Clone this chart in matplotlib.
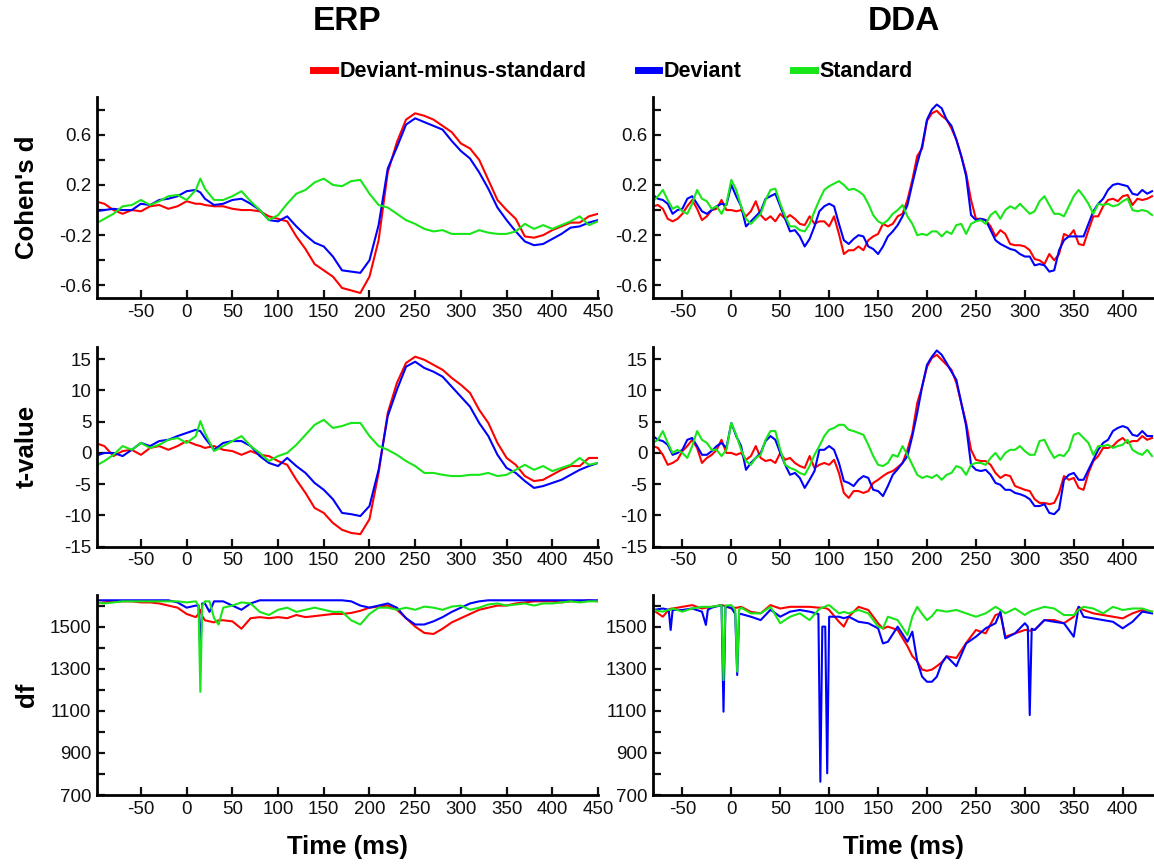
import numpy as np
import matplotlib
matplotlib.use('Agg')
import matplotlib.pyplot as plt
from matplotlib.lines import Line2D
from matplotlib.ticker import FormatStrFormatter

plt.rcParams['font.family'] = ['Liberation Sans', 'DejaVu Sans']
plt.rcParams['axes.unicode_minus'] = False

RED, BLUE, GREEN = '#ff0000', '#0000ff', '#18e618'

# ---------------- ERP (left column) ----------------
t_erp = [-100, -90, -80, -70, -60, -50, -40, -30, -20, -10, 0, 10, 15,
         20, 30, 40, 50, 60, 70, 80, 90, 100, 110,
         120, 130, 140, 150, 160, 170, 180, 190, 200, 210,
         220, 230, 240, 250, 260, 270, 280, 290, 300, 310,
         320, 330, 340, 350, 360, 370, 380, 390, 400, 410,
         420, 430, 440, 450]

d_erp_red = [0.07, 0.05, 0.00, -0.03, 0.00, -0.01, 0.03, 0.04, 0.01, 0.03, 0.07, 0.05, 0.05,
             0.04, 0.03, 0.03, 0.01, 0.00, 0.00, -0.01, -0.05, -0.07, -0.09,
             -0.21, -0.31, -0.43, -0.48, -0.53, -0.62, -0.64, -0.66, -0.53, -0.24,
             0.30, 0.54, 0.72, 0.77, 0.75, 0.72, 0.67, 0.62, 0.53, 0.49,
             0.40, 0.24, 0.08, 0.00, -0.07, -0.21, -0.22, -0.20, -0.16, -0.13,
             -0.10, -0.10, -0.05, -0.03]
d_erp_blue = [-0.01, 0.00, 0.01, 0.00, 0.00, 0.05, 0.04, 0.08, 0.09, 0.11, 0.15, 0.16, 0.14,
              0.09, 0.04, 0.05, 0.08, 0.09, 0.05, 0.00, -0.08, -0.09, -0.05,
              -0.13, -0.20, -0.26, -0.29, -0.37, -0.48, -0.49, -0.50, -0.40, -0.12,
              0.33, 0.50, 0.68, 0.73, 0.70, 0.67, 0.64, 0.55, 0.47, 0.41,
              0.30, 0.17, 0.02, -0.08, -0.17, -0.25, -0.28, -0.27, -0.23, -0.19,
              -0.14, -0.13, -0.10, -0.08]
d_erp_green = [-0.11, -0.07, -0.03, 0.03, 0.04, 0.08, 0.04, 0.07, 0.11, 0.12, 0.08, 0.16, 0.25,
               0.17, 0.08, 0.08, 0.11, 0.15, 0.07, 0.00, -0.08, -0.04, 0.05,
               0.13, 0.16, 0.22, 0.25, 0.20, 0.19, 0.23, 0.24, 0.13, 0.04,
               0.02, -0.03, -0.08, -0.11, -0.15, -0.17, -0.16, -0.19, -0.19, -0.19,
               -0.16, -0.18, -0.19, -0.19, -0.17, -0.11, -0.15, -0.12, -0.15, -0.12,
               -0.09, -0.05, -0.12, -0.09]

tv_erp_red = [1.6, 1.1, -0.5, 0.3, 0.5, -0.3, 0.8, 1.1, 0.5, 1.1, 1.9, 1.3, 1.1,
              0.8, 1.1, 0.5, 0.3, -0.3, 0.3, -0.3, -0.5, -1.3, -1.9,
              -4.3, -6.4, -8.8, -9.6, -11.2, -12.3, -12.8, -13.0, -10.6, -3.2,
              6.4, 11.2, 14.4, 15.4, 14.9, 14.1, 13.3, 12.0, 10.9, 9.6,
              6.9, 4.8, 1.6, -0.8, -1.9, -3.7, -4.5, -4.3, -3.5, -2.7,
              -2.1, -2.1, -0.8, -0.8]
tv_erp_blue = [-0.5, 0.0, 0.0, -0.5, 0.5, 1.6, 1.1, 1.9, 2.1, 2.7, 3.2, 3.7, 3.5,
               2.4, 0.5, 1.6, 1.9, 1.9, 1.1, -0.5, -1.6, -2.1, -0.8,
               -2.1, -3.2, -4.8, -5.9, -7.4, -9.6, -9.8, -10.1, -8.5, -2.7,
               5.9, 10.1, 13.8, 14.6, 13.6, 13.0, 12.2, 10.6, 9.0, 7.4,
               4.8, 2.7, -0.3, -2.4, -3.2, -4.5, -5.6, -5.3, -4.8, -4.3,
               -3.5, -2.7, -2.1, -1.6]
tv_erp_green = [-2.1, -1.3, -0.3, 1.1, 0.5, 1.6, 0.8, 1.3, 2.1, 2.4, 1.6, 2.7, 5.1,
                3.2, 0.3, 1.1, 1.9, 2.7, 1.1, 0.0, -1.3, -0.5, 0.0,
                1.3, 2.9, 4.5, 5.3, 4.0, 4.3, 4.8, 4.8, 2.7, 1.1,
                0.5, -0.3, -1.3, -2.1, -3.2, -3.2, -3.5, -3.7, -3.7, -3.5,
                -3.5, -3.2, -3.7, -3.5, -2.7, -1.9, -2.7, -2.1, -2.9, -2.4,
                -1.9, -0.8, -1.9, -1.6]

t_df_erp = [-100, -90, -80, -70, -60, -50, -40, -30, -20, -10, 0, 10,
            13, 15, 17, 20, 25, 30, 35, 40,
            50, 60, 70, 80, 90, 100, 110, 120, 130, 140,
            150, 160, 170, 180, 190, 200, 210, 220, 230, 240,
            250, 260, 270, 280, 290, 300, 310, 320, 330, 340,
            350, 360, 370, 380, 390, 400, 410, 420, 430, 440, 450]
df_erp_red = [1610, 1615, 1620, 1620, 1620, 1615, 1615, 1610, 1600, 1590, 1560, 1545,
              1560, 1580, 1550, 1530, 1525, 1520, 1530, 1530,
              1525, 1490, 1540, 1545, 1540, 1545, 1540, 1555, 1545, 1550,
              1555, 1560, 1560, 1565, 1575, 1590, 1595, 1600, 1580, 1540,
              1500, 1470, 1465, 1490, 1520, 1540, 1560, 1580, 1590, 1600,
              1600, 1610, 1615, 1620, 1620, 1620, 1615, 1620, 1620, 1625, 1620]
df_erp_blue = [1625, 1625, 1625, 1625, 1625, 1625, 1625, 1625, 1625, 1615, 1590, 1600,
               1600, 1380, 1610, 1610, 1570, 1620, 1620, 1620,
               1600, 1580, 1610, 1625, 1625, 1625, 1625, 1625, 1625, 1625,
               1625, 1625, 1625, 1620, 1600, 1590, 1600, 1610, 1590, 1540,
               1510, 1510, 1525, 1545, 1570, 1590, 1610, 1620, 1625, 1625,
               1625, 1625, 1625, 1625, 1625, 1625, 1625, 1625, 1625, 1625, 1625]
df_erp_green = [1615, 1610, 1615, 1620, 1620, 1620, 1620, 1620, 1620, 1620, 1615, 1620,
                1600, 1190, 1600, 1620, 1620, 1540, 1510, 1590,
                1600, 1615, 1610, 1570, 1555, 1580, 1590, 1570, 1580, 1590,
                1580, 1570, 1570, 1530, 1510, 1560, 1590, 1590, 1580, 1590,
                1580, 1595, 1590, 1580, 1595, 1600, 1580, 1590, 1605, 1610,
                1600, 1605, 1610, 1600, 1610, 1610, 1615, 1620, 1615, 1620, 1620]

# ---------------- DDA (right column) ----------------
t_dda = np.arange(-80, 435, 5)

d_dda_red = [0.03, 0.04, 0.01, -0.07, -0.09, -0.07, -0.03, 0.03, 0.08, 0.01,
             -0.08, -0.05, 0.00, 0.01, 0.08, 0.00, 0.00, -0.01, 0.00, -0.05,
             -0.01, 0.07, -0.04, -0.08, -0.05, -0.09, -0.03, -0.07, -0.04, -0.07,
             -0.11, -0.12, -0.05, -0.11, -0.09, -0.09, -0.13, -0.05, -0.19, -0.35,
             -0.32, -0.32, -0.29, -0.32, -0.24, -0.21, -0.19, -0.11, -0.13, -0.11,
             -0.05, -0.03, 0.08, 0.24, 0.43, 0.49, 0.71, 0.77, 0.79, 0.75,
             0.72, 0.65, 0.56, 0.43, 0.29, 0.08, -0.07, -0.07, -0.08, -0.13,
             -0.21, -0.16, -0.19, -0.27, -0.28, -0.28, -0.29, -0.32, -0.39, -0.40,
             -0.43, -0.35, -0.40, -0.35, -0.19, -0.21, -0.16, -0.27, -0.28, -0.16,
             -0.05, -0.05, 0.03, 0.08, 0.09, 0.07, 0.11, 0.12, 0.04, 0.09,
             0.08, 0.09, 0.11]
d_dda_blue = [0.12, 0.09, 0.08, 0.05, -0.03, 0.00, 0.01, 0.09, 0.11, 0.05,
              -0.01, -0.03, 0.00, 0.03, 0.05, 0.04, 0.20, 0.11, 0.03, -0.13,
              -0.09, -0.05, -0.01, 0.09, 0.11, 0.13, 0.03, -0.07, -0.17, -0.16,
              -0.21, -0.29, -0.23, -0.13, -0.01, 0.03, 0.05, 0.03, -0.11, -0.24,
              -0.27, -0.23, -0.20, -0.21, -0.29, -0.31, -0.35, -0.29, -0.21, -0.17,
              -0.12, -0.05, 0.04, 0.21, 0.37, 0.51, 0.72, 0.80, 0.84, 0.81,
              0.72, 0.67, 0.56, 0.43, 0.27, -0.04, -0.08, -0.07, -0.08, -0.16,
              -0.24, -0.27, -0.29, -0.31, -0.32, -0.35, -0.37, -0.37, -0.44, -0.43,
              -0.44, -0.49, -0.48, -0.32, -0.24, -0.21, -0.21, -0.21, -0.21, -0.11,
              -0.01, 0.05, 0.09, 0.16, 0.20, 0.21, 0.20, 0.19, 0.13, 0.12,
              0.16, 0.13, 0.15]
d_dda_green = [0.07, 0.11, 0.16, 0.08, 0.01, 0.03, -0.01, -0.03, 0.05, 0.16,
               0.09, 0.07, 0.01, 0.03, -0.03, 0.05, 0.24, 0.16, 0.03, -0.07,
               -0.11, -0.07, -0.03, 0.08, 0.16, 0.17, 0.05, -0.05, -0.13, -0.13,
               -0.16, -0.17, -0.11, -0.01, 0.08, 0.16, 0.19, 0.21, 0.23, 0.20,
               0.16, 0.17, 0.15, 0.12, 0.05, -0.04, -0.09, -0.11, -0.08, -0.03,
               0.00, 0.04, -0.05, -0.11, -0.20, -0.19, -0.20, -0.17, -0.17, -0.21,
               -0.17, -0.19, -0.12, -0.11, -0.19, -0.11, -0.09, -0.08, -0.11, -0.04,
               -0.01, -0.07, 0.00, 0.03, 0.01, 0.05, 0.01, -0.03, -0.01, 0.07,
               0.11, 0.04, -0.03, -0.03, -0.05, 0.03, 0.11, 0.16, 0.11, 0.05,
               -0.03, 0.05, 0.04, 0.05, 0.03, 0.04, 0.07, 0.09, 0.00, -0.01,
               0.00, -0.01, -0.04]

tv_dda_red = [1.1, 0.8, -0.3, -1.9, -1.6, -1.1, 0.3, 1.1, 2.1, 0.8,
              -1.6, -0.8, -0.3, 0.5, 2.1, 0.0, 0.0, -0.3, 0.0, -1.1,
              -0.5, 1.1, -0.8, -1.3, -1.1, -1.6, 0.0, -1.1, -0.8, -1.6,
              -2.1, -2.4, -0.5, -2.4, -1.9, -1.6, -1.9, -1.1, -3.2, -6.4,
              -7.2, -6.1, -6.1, -6.4, -6.1, -4.8, -4.3, -3.7, -3.2, -2.9,
              -2.3, -1.6, 0.5, 3.2, 8.0, 10.6, 13.8, 15.2, 15.7, 14.9,
              14.1, 13.3, 11.2, 8.0, 4.8, 0.5, -1.1, -1.3, -1.3, -1.9,
              -3.2, -4.0, -3.5, -3.7, -5.3, -5.6, -5.9, -6.1, -7.4, -8.0,
              -8.0, -8.2, -8.0, -6.4, -3.7, -4.3, -4.0, -5.6, -5.9, -3.2,
              -1.3, -0.5, 0.8, 0.8, 1.1, 1.9, 2.4, 1.6, 1.9, 1.9,
              2.7, 2.1, 2.4]
tv_dda_blue = [2.7, 2.1, 1.9, 1.3, -0.3, 0.0, 0.5, 2.1, 2.4, 1.1,
               -0.3, -0.3, 0.3, 1.1, 1.6, 0.8, 4.8, 2.7, 1.1, -2.7,
               -1.6, -0.8, 0.0, 1.9, 2.7, 2.1, 0.0, -1.9, -3.5, -3.2,
               -4.0, -5.6, -4.3, -2.9, 0.5, 0.5, 1.1, 0.5, -1.6, -4.5,
               -4.8, -5.3, -4.3, -3.7, -4.0, -5.9, -6.1, -6.9, -5.3, -3.5,
               -2.6, -1.6, -0.5, 2.7, 6.4, 10.6, 14.1, 15.4, 16.4, 15.7,
               14.4, 13.0, 11.7, 8.0, 4.3, -1.9, -2.7, -2.9, -2.7, -3.5,
               -4.8, -5.1, -5.9, -5.9, -6.4, -6.6, -6.9, -7.4, -8.5, -8.5,
               -8.2, -9.6, -9.8, -9.0, -4.3, -3.5, -3.2, -4.3, -4.3, -2.7,
               -1.1, 0.5, 1.6, 2.1, 3.5, 4.0, 4.3, 4.0, 2.9, 2.7,
               3.5, 2.7, 2.7]
tv_dda_green = [1.6, 2.1, 3.5, 1.6, 0.0, 0.5, 0.0, -0.8, 1.1, 3.5,
                2.1, 1.6, 0.5, 0.5, -0.5, 0.5, 4.8, 2.9, 0.5, -1.3,
                -1.9, -0.8, -0.3, 2.1, 3.5, 3.5, 0.5, -1.9, -2.4, -2.7,
                -3.2, -3.5, -2.1, -0.3, 1.1, 2.7, 3.7, 4.0, 4.5, 4.5,
                3.7, 3.5, 3.2, 2.9, 1.3, -0.5, -1.9, -2.1, -1.6, -0.3,
                -0.6, 1.1, -0.3, -1.9, -3.5, -4.0, -3.7, -4.0, -3.5, -4.3,
                -3.5, -3.2, -2.1, -2.4, -3.5, -1.9, -1.6, -1.6, -1.9, -0.8,
                0.0, -1.1, 0.0, 0.5, 0.5, 1.1, 0.3, -0.3, -0.3, 1.9,
                2.1, 0.5, -0.8, -0.3, -0.5, 0.5, 2.9, 3.2, 2.4, 1.6,
                -0.3, 1.1, 1.1, 1.3, 0.8, 1.1, 1.3, 2.1, 0.5, 0.0,
                -0.3, 0.5, -0.5]

t_df_dda = [-80, -70, -64, -62, -60, -50, -40, -30, -26, -24,
            -20, -10, -8, -6, 0, 4, 6, 8, 10, 20,
            30, 40, 50, 60, 70, 80, 89, 91, 93, 96,
            98, 100, 110, 115, 120, 130, 140, 150, 155, 160,
            170, 180, 185, 190, 195, 200, 205, 210, 215, 220,
            230, 240, 250, 260, 270, 275, 280, 290, 300, 303,
            305, 307, 310, 320, 330, 340, 350, 355, 360, 370,
            380, 390, 400, 410, 420, 430]
df_dda_red = [1579, 1547, 1580, 1585, 1586, 1594, 1602, 1586, 1590, 1590,
              1594, 1602, 1600, 1598, 1586, 1590, 1590, 1592, 1594, 1570,
              1563, 1602, 1586, 1594, 1594, 1594, 1590, 1590, 1590, 1588,
              1585, 1579, 1523, 1500, 1547, 1594, 1579, 1516, 1490, 1500,
              1484, 1407, 1360, 1335, 1296, 1290, 1296, 1312, 1330, 1359,
              1351, 1422, 1484, 1468, 1555, 1563, 1452, 1468, 1484, 1484,
              1480, 1484, 1484, 1531, 1531, 1516, 1547, 1594, 1579, 1563,
              1555, 1547, 1539, 1563, 1579, 1571]
df_dda_blue = [1579, 1586, 1580, 1484, 1579, 1579, 1586, 1571, 1508, 1580,
               1590, 1602, 1096, 1594, 1590, 1560, 1270, 1560, 1560, 1547,
               1531, 1580, 1547, 1571, 1579, 1571, 1560, 763, 1500, 1500,
               803, 1547, 1547, 1540, 1547, 1523, 1516, 1492, 1420, 1428,
               1500, 1428, 1476, 1335, 1262, 1238, 1238, 1262, 1325, 1359,
               1312, 1420, 1452, 1492, 1516, 1571, 1444, 1468, 1516, 1500,
               1080, 1490, 1484, 1531, 1523, 1516, 1452, 1594, 1547, 1539,
               1531, 1523, 1492, 1523, 1571, 1563]
df_dda_green = [1579, 1571, 1580, 1580, 1586, 1571, 1586, 1594, 1594, 1594,
                1594, 1602, 1246, 1600, 1602, 1580, 1286, 1580, 1590, 1563,
                1563, 1594, 1516, 1547, 1563, 1531, 1580, 1586, 1590, 1595,
                1600, 1602, 1563, 1570, 1563, 1579, 1563, 1500, 1492, 1547,
                1531, 1460, 1547, 1594, 1560, 1531, 1550, 1579, 1575, 1571,
                1579, 1563, 1547, 1563, 1594, 1580, 1563, 1586, 1555, 1565,
                1570, 1575, 1579, 1594, 1586, 1555, 1555, 1580, 1594, 1586,
                1563, 1594, 1579, 1586, 1586, 1571]

legend_labels = ['Deviant-minus-standard', 'Deviant', 'Standard']

fig = plt.figure(figsize=(11.54, 8.65), dpi=100)

col_x = [0.0841, 0.5659]
col_w = 0.4341
rows = [(0.6555, 0.2324), (0.368, 0.2312), (0.0809, 0.2312)]


def panel(col, row, t, series, xlim, xticks, ylim, major, minor, fmt):
    ax = fig.add_axes([col_x[col], rows[row][0], col_w, rows[row][1]])
    for y, c in zip(series, [RED, BLUE, GREEN]):
        ax.plot(t, y, color=c, lw=1.5)
    for s in ['top', 'right']:
        ax.spines[s].set_visible(False)
    for s in ['left', 'bottom']:
        ax.spines[s].set_linewidth(2.0)
    ax.set_xlim(*xlim)
    ax.set_ylim(*ylim)
    ax.set_xticks(xticks)
    ax.set_yticks(major)
    ax.set_yticks(minor, minor=True)
    ax.yaxis.set_major_formatter(FormatStrFormatter(fmt))
    ax.tick_params(which='both', direction='in', length=6, width=1.6,
                   labelsize=13.5, colors='#111111', pad=4)
    return ax


xl_erp, xt_erp = (-98, 450), list(range(-50, 451, 50))
xl_dda, xt_dda = (-80, 432), list(range(-50, 401, 50))

d_major, d_minor = [-0.6, -0.2, 0.2, 0.6], [-0.4, 0.0, 0.4, 0.8]
t_major = list(range(-15, 16, 5))
df_major, df_minor = [700, 900, 1100, 1300, 1500], [800, 1000, 1200, 1400, 1600]

panel(0, 0, t_erp, [d_erp_red, d_erp_blue, d_erp_green], xl_erp, xt_erp,
      (-0.7, 0.9), d_major, d_minor, '%.1f')
panel(0, 1, t_erp, [tv_erp_red, tv_erp_blue, tv_erp_green], xl_erp, xt_erp,
      (-15, 17), t_major, [], '%d')
panel(0, 2, t_df_erp, [df_erp_red, df_erp_blue, df_erp_green], xl_erp, xt_erp,
      (700, 1650), df_major, df_minor, '%d')
panel(1, 0, t_dda, [d_dda_red, d_dda_blue, d_dda_green], xl_dda, xt_dda,
      (-0.7, 0.9), d_major, d_minor, '%.1f')
panel(1, 1, t_dda, [tv_dda_red, tv_dda_blue, tv_dda_green], xl_dda, xt_dda,
      (-15, 17), t_major, [], '%d')
panel(1, 2, t_df_dda, [df_dda_red, df_dda_blue, df_dda_green], xl_dda, xt_dda,
      (700, 1650), df_major, df_minor, '%d')

# column titles and axis labels
cx = [col_x[0] + col_w / 2, col_x[1] + col_w / 2]
fig.text(cx[0], 0.975, 'ERP', ha='center', va='center', fontsize=24, fontweight='bold')
fig.text(cx[1], 0.975, 'DDA', ha='center', va='center', fontsize=24, fontweight='bold')
for x in cx:
    fig.text(x, 0.021, 'Time (ms)', ha='center', va='center', fontsize=18.5, fontweight='bold')

for label, (b, h) in zip(["Cohen's d", 't-value', 'df'], rows):
    fig.text(0.0234, b + h / 2, label, ha='center', va='center', rotation=90,
             fontsize=18.5, fontweight='bold')

handles = [Line2D([], [], color=c, lw=5) for c in [RED, BLUE, GREEN]]
fig.legend(handles, legend_labels, loc='center', bbox_to_anchor=(0.531, 0.917), ncol=3,
           frameon=False, handlelength=1.0, handletextpad=0.2, columnspacing=2.4,
           prop={'weight': 'bold', 'size': 15.5})

fig.savefig('out.png', dpi=100)
